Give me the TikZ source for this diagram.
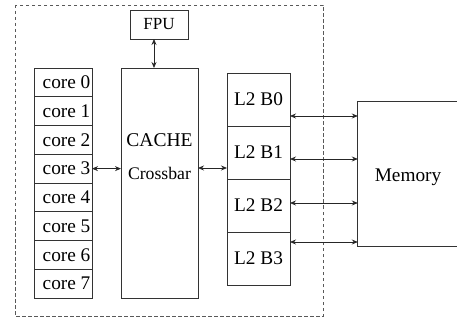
\documentclass[tikz,border=0pt]{standalone}
\usepackage{fontspec}
\setmainfont{Liberation Serif}
\usetikzlibrary{arrows.meta,calc}
\begin{document}
\begin{tikzpicture}[x=1pt,y=-1pt,
  box/.style={draw=black!80,line width=0.9pt,inner sep=0pt,outer sep=0pt,font=\fontsize{19.3}{21}\selectfont},
  corebox/.style={box,minimum width=58pt,minimum height=28.75pt},
  l2box/.style={box,minimum width=63pt,minimum height=53pt},
  arr/.style={{Stealth[length=6pt,width=5pt]}-{Stealth[length=6pt,width=5pt]},line width=0.8pt,draw=black!85},
  lbl/.style={inner sep=0pt,font=\fontsize{19.3}{21}\selectfont}]
\useasboundingbox (0,0) rectangle (457,320);
\draw[black!65,line width=0.9pt,dash pattern=on 3.5pt off 2.5pt] (15,5) rectangle (323,316);
\node[box,minimum width=58pt,minimum height=29pt,font=\fontsize{17}{19}\selectfont] (fpu) at (159,24.5) {FPU};
\foreach \i in {0,...,7}{
  \node[corebox] (core\i) at (63,{68+28.75*(\i+0.5)}) {};
  \node[lbl,anchor=west] (coret\i) at (42.5,{68+28.75*(\i+0.5)}) {core \i};
}
\node[box,minimum width=77pt,minimum height=230pt] (cache) at (159.5,183) {};
\node[lbl,font=\fontsize{19.5}{21}\selectfont] (cachet) at (159.5,140) {CACHE};
\node[lbl,font=\fontsize{17.7}{19}\selectfont] (xbar) at (159.5,173) {Crossbar};
\foreach \i in {0,...,3}{
  \node[l2box] (l2b\i) at (258.5,{73+53*(\i+0.5)}) {L2 B\i};
}
\node[inner sep=0pt,minimum width=99pt,minimum height=144pt] (mem) at (407.5,174) {};
\node[lbl] (memt) at (408,177) {Memory};
\draw[black!80,line width=0.9pt] (mem.north east) -- (mem.north west) -- (mem.south west) -- (mem.south east);
\draw[arr] (154,39) -- (154,68);
\draw[arr] (core3.east) -- (cache.west |- core3.east);
\draw[arr] (cache.east |- 0,168) -- (l2b1.west |- 0,168);
\foreach \y/\b in {116/0,159/1,203/2,242/3}{
  \draw[arr] (l2b\b.east |- 0,\y) -- (mem.west |- 0,\y);
}
\end{tikzpicture}
\end{document}
